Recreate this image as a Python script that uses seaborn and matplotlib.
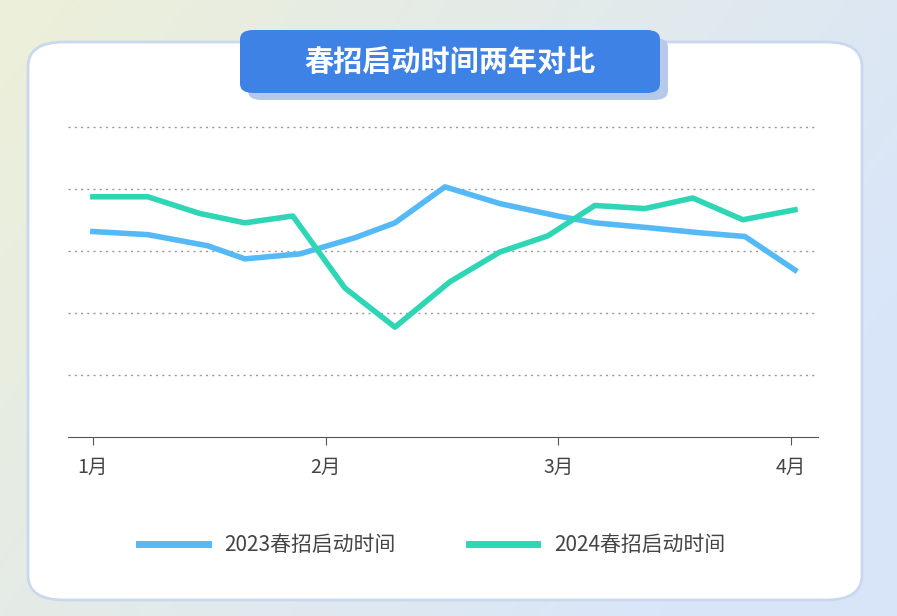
import numpy as np
import pandas as pd
import matplotlib
matplotlib.use("Agg")
import matplotlib.pyplot as plt
from matplotlib import font_manager
import seaborn as sns
from matplotlib.patches import FancyBboxPatch
from matplotlib.lines import Line2D

cjk = [f.name for f in font_manager.fontManager.ttflist if "CJK" in f.name]
pref = [n for n in ["Noto Sans CJK SC", "Noto Sans CJK JP", "Noto Sans CJK TC", "Noto Sans CJK KR"] if n in cjk]
fam = (pref or cjk or ["DejaVu Sans"])[0]
plt.rcParams["font.family"] = "sans-serif"
plt.rcParams["font.sans-serif"] = [fam, "DejaVu Sans"]

tick_labels = ["1月", "2月", "3月", "4月"]
x23 = [0, 0.236, 0.494, 0.653, 0.89, 1.126, 1.298, 1.513, 1.749, 1.998, 2.157, 2.393, 2.608, 2.802, 3.017]
v23 = [3.31, 3.26, 3.08, 2.87, 2.95, 3.21, 3.45, 4.03, 3.76, 3.56, 3.45, 3.37, 3.29, 3.23, 2.69]
x24 = [0, 0.236, 0.460, 0.653, 0.859, 1.083, 1.298, 1.534, 1.749, 1.955, 2.157, 2.372, 2.578, 2.793, 3.017]
v24 = [3.87, 3.87, 3.60, 3.45, 3.56, 2.40, 1.77, 2.50, 2.98, 3.24, 3.73, 3.68, 3.85, 3.50, 3.66]
series_names = ["2023春招启动时间", "2024春招启动时间"]
colors = ["#55b9f6", "#2fd6b5"]

df = pd.concat([
    pd.DataFrame({"x": x23, "y": v23, "s": series_names[0]}),
    pd.DataFrame({"x": x24, "y": v24, "s": series_names[1]}),
])

fig = plt.figure(figsize=(8.97, 6.16), dpi=100)
bg = fig.add_axes([0, 0, 1, 1], zorder=-10)
gx = np.linspace(0, 1, 200)
X, Y = np.meshgrid(gx, gx)
c1 = np.array([0.93, 0.94, 0.85]); c2 = np.array([0.85, 0.90, 0.98])
t = np.clip(X * 0.8 + Y * 0.4, 0, 1)[..., None]
bg.imshow(c1 * (1 - t) + c2 * t, extent=[0, 1, 0, 1], aspect="auto", origin="upper")
bg.set_xlim(0, 1); bg.set_ylim(0, 1); bg.axis("off")

card = FancyBboxPatch((28/897, 16/616), 834/897, 558/616,
                      boxstyle="round,pad=0,rounding_size=0.04",
                      transform=fig.transFigure, facecolor="white",
                      edgecolor="#c9d8ee", linewidth=2, zorder=-5)
fig.patches.append(card)
shadow = FancyBboxPatch((248/897, 1-100/616), 420/897, 62/616,
                        boxstyle="round,pad=0,rounding_size=0.015",
                        transform=fig.transFigure, facecolor="#b7c9e8",
                        edgecolor="none", zorder=-4)
fig.patches.append(shadow)
banner = FancyBboxPatch((240/897, 1-93/616), 420/897, 63/616,
                        boxstyle="round,pad=0,rounding_size=0.015",
                        transform=fig.transFigure, facecolor="#3f82e6",
                        edgecolor="none", zorder=-3)
fig.patches.append(banner)
fig.text(450/897, 1-62/616, "春招启动时间两年对比", color="white", fontsize=21,
         fontweight="bold", ha="center", va="center")

ax = fig.add_axes([68/897, 1-437/616, 750/897, (437-108)/616])
sns.lineplot(data=df, x="x", y="y", hue="s", palette=colors, linewidth=4,
             ax=ax, legend=False, sort=False)
ax.set_xlim(-0.107, 3.116)
ax.set_ylim(0, 5.3)
ax.set_yticks([1, 2, 3, 4, 5])
ax.yaxis.grid(True, linestyle=(0, (1.5, 3)), color="#999999", linewidth=1)
ax.set_yticklabels([])
ax.tick_params(axis="y", length=0)
ax.set_xticks([0, 1, 2, 3])
ax.set_xticklabels(tick_labels, fontsize=14, color="#444444")
ax.tick_params(axis="x", length=6, color="#555555", pad=8)
for s in ["top", "right", "left"]:
    ax.spines[s].set_visible(False)
ax.spines["bottom"].set_color("#555555")
ax.set_xlabel(""); ax.set_ylabel("")
ax.set_facecolor("none")

handles = [Line2D([], [], color=c, linewidth=5) for c in colors]
fig.legend(handles, series_names, loc="center", bbox_to_anchor=(432/897, 1-545/616),
           ncol=2, frameon=False, fontsize=15, handlelength=3.3, columnspacing=3.5,
           labelcolor="#444444")

fig.savefig("out.png", dpi=100)
